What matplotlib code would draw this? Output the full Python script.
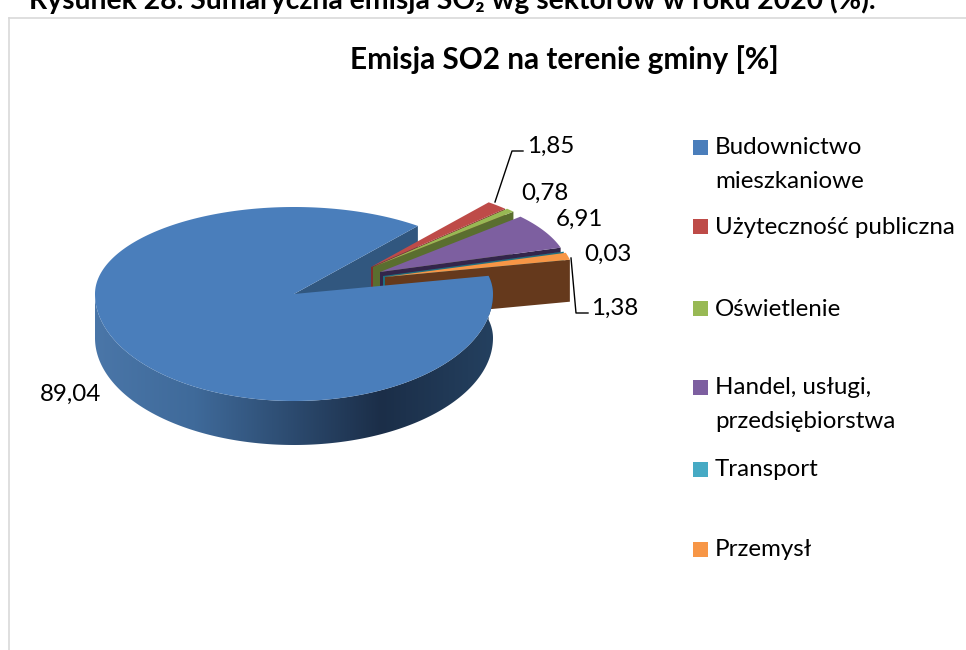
import numpy as np
import matplotlib.pyplot as plt
from matplotlib.colors import LinearSegmentedColormap
from matplotlib.patches import Polygon, Rectangle

# dane
sektory = ['Budownictwo\nmieszkaniowe', 'Użyteczność publiczna', 'Oświetlenie',
           'Handel, usługi,\nprzedsiębiorstwa', 'Transport', 'Przemysł']
wartosci = [89.04, 1.85, 0.78, 6.91, 0.03, 1.38]
etykiety = ['89,04', '1,85', '0,78', '6,91', '0,03', '1,38']
tytul = 'Emisja SO2 na terenie gminy [%]'
naglowek = 'Rysunek 28. Sumaryczna emisja SO₂ wg sektorów w roku 2020 (%).'

# kolory: gora wycinka, sciana wycinka
kolory = ['#4A7EBB', '#BE4B48', '#98B954', '#7D5FA0', '#46AAC4', '#F79646']
sciany = ['#31577F', '#7F2F2D', '#5A6E2F', '#33254A', '#1F6F80', '#65391C']

# rzut kola na ekran (piksele)
RX, RY_GORA, RY_DOL = 199, 87, 107
GLEBOKOSC = 44
kat_start = 51.5  # poczatek pierwszego wycinka po przerwie
przesuniecia = [(0, 0), (77, -27), (79, -27), (86, -22), (89, -18), (91, -17)]
skala = [1, 0.95, 0.95, 0.95, 0.95, 0.95]
srodek = (294, 294)
FONT = ['Lato', 'DejaVu Sans']

plt.rcParams['font.family'] = FONT


def punkt(kat, r, sx, sy):
    kat = np.radians(kat)
    s = np.sin(kat)
    return sx + RX * r * np.cos(kat), sy - r * np.where(s > 0, RY_GORA, RY_DOL) * s


def wycinek(a1, a2, r, sx, sy):
    # a1 > a2, zgodnie z ruchem wskazowek
    x, y = punkt(np.linspace(a1, a2, 300), r, sx, sy)
    return np.column_stack([np.r_[sx, x], np.r_[sy, y]])


fig = plt.figure(figsize=(9.66, 6.5), dpi=100)
ax = fig.add_axes([0, 0, 1, 1])
ax.axis('off')

# katy z wartosci
suma = sum(wartosci)
katy = 360 * np.array(wartosci) / suma
# male wycinki ida od kat_start w dol, glowny zaczyna sie na koncu ostatniego
konce = kat_start - np.cumsum(katy[1:])
pocz = np.r_[kat_start, konce[:-1]]
a_koniec = konce[-1]

# sciana bloku glownego widoczna w przerwie
x0, y0 = punkt(np.array(kat_start), 1, *srodek)
ax.add_patch(Polygon([srodek, (x0, y0), (x0, y0 + GLEBOKOSC),
                      (srodek[0], srodek[1] + GLEBOKOSC)],
                     fc=sciany[0], ec='none', zorder=2))

# male wycinki, od tylu do przodu
z = 3
for i in range(1, len(wartosci)):
    sx = srodek[0] + przesuniecia[i][0]
    sy = srodek[1] + przesuniecia[i][1]
    a1, a2 = pocz[i - 1], konce[i - 1]
    xk, yk = punkt(np.array(a2), skala[i], sx, sy)
    ax.add_patch(Polygon([(sx, sy), (xk, yk), (xk, yk + GLEBOKOSC - 2),
                          (sx, sy + GLEBOKOSC - 2)],
                         fc=sciany[i], ec='none', zorder=z))
    ax.add_patch(Polygon(wycinek(a1, a2, skala[i], sx, sy),
                         fc=kolory[i], ec='none', zorder=z + 1))
    z += 2

# bok glownego wycinka z gradientem
x, y = punkt(np.linspace(a_koniec, -180, 300), 1, *srodek)
bok = np.column_stack([np.r_[x, x[::-1]], np.r_[y, y[::-1] + GLEBOKOSC]])
p_bok = Polygon(bok, fc='none', ec='none', zorder=z)
ax.add_patch(p_bok)
cmap = LinearSegmentedColormap.from_list('bok', [(0, '#4A76A8'), (0.25, '#3F6A9A'),
                                                 (0.72, '#1B2E48'), (1, '#24405F')])
im = ax.imshow(np.linspace(0, 1, 256).reshape(1, -1), cmap=cmap, aspect='auto',
               extent=(95, 493, 460, 200), zorder=z)
im.set_clip_path(p_bok)

# gora glownego wycinka
ax.add_patch(Polygon(wycinek(a_koniec, kat_start - 360, 1, *srodek),
                     fc=kolory[0], ec='none', zorder=z + 1))

# ramka wykresu
ax.plot([9, 9], [650, 18], color='#D9D9D9', lw=1.2, zorder=1)
ax.plot([9, 966], [18, 18], color='#D9D9D9', lw=1.2, zorder=1)

# naglowek i tytul
ax.text(29, 9, naglowek, fontsize=20.4, fontweight='bold', va='baseline', ha='left',
        color='black')
ax.text(564, 60, tytul, fontsize=21.4, fontweight='bold', ha='center', va='center')

# etykiety danych
poz_etykiet = [(71, 394), (551, 146), (545, 193), (579, 219), (608, 254), (615, 308)]
for tekst, (ex, ey) in zip(etykiety, poz_etykiet):
    ax.text(ex, ey, tekst, fontsize=17.4, ha='center', va='center', zorder=30)

# linie odniesienia
ax.plot([495, 512, 523], [202, 151, 151], color='black', lw=1, zorder=29)
ax.plot([571, 576, 588], [258, 313, 313], color='black', lw=1, zorder=29)

# legenda
poz_legendy = [147, 226, 308, 387, 469, 549]
for nazwa, kolor, ly in zip(sektory, kolory, poz_legendy):
    ax.add_patch(Rectangle((693, ly - 7), 15, 15, fc=kolor, ec='none', zorder=30))
    for n, linia in enumerate(nazwa.split('\n')):
        ax.text(715, ly + 1 + n * 33, linia, fontsize=17.4, ha='left', va='center', zorder=30)

ax.set_xlim(0, 966)
ax.set_ylim(650, 0)
fig.savefig('out.png', dpi=100)
